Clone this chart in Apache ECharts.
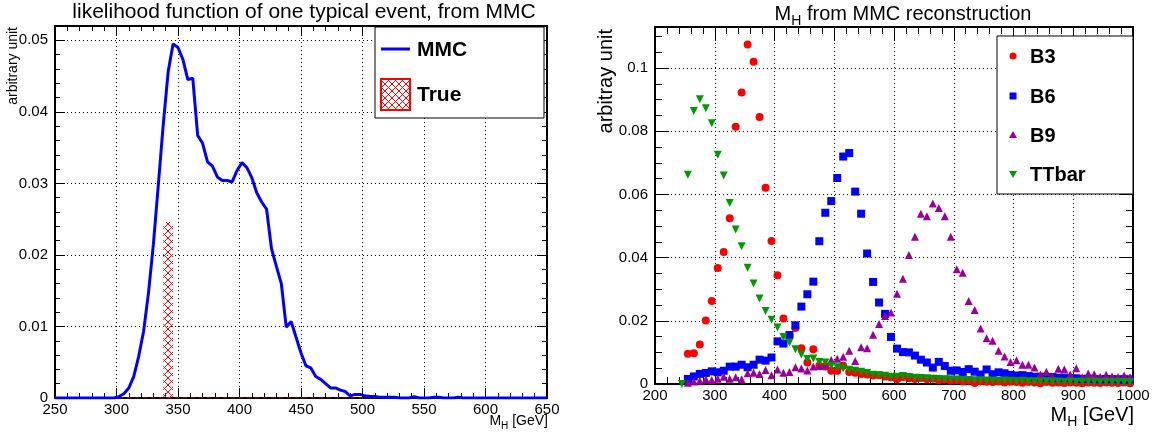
<!DOCTYPE html>
<html>
<head>
<meta charset="utf-8">
<script src="https://cdn.jsdelivr.net/npm/echarts@6/dist/echarts.min.js"></script>
<style>
html,body{margin:0;padding:0;background:#fff;}
#c{width:1159px;height:434px;}
</style>
</head>
<body>
<div id="c"></div>
<script>
// ---------- Left panel: MMC likelihood of one event ----------
const mmcMass = [
250,254,258,262,266,270,274,278,282,286,
290,294,298,302,306,310,314,318,322,326,
330,334,338,342,346,350,354,358,362,366,
370,374,378,382,386,390,394,398,402,406,
410,414,418,422,426,430,434,438,442,446,
450,454,458,462,466,470,474,478,482,486,
490,494,498,502,506,510,514,518,522,526,
530,534,538,542,546,550,554,558,562,566,
570,574,578,582,586,590,594,598,602,606,
610,614,618,622,626,630,634,638,642,646,
650];
const mmcValue = [
0,0,0,0,0,0,0,0,0,0,
0,0,0,0.0002,0.0006,0.0014,0.003,0.0058,0.0093,0.0147,
0.0215,0.0298,0.0382,0.0456,0.0495,0.049,0.0473,0.0445,0.0447,0.0367,
0.0356,0.033,0.0324,0.0309,0.0304,0.0304,0.0302,0.0318,0.0329,0.0322,
0.0308,0.0287,0.0274,0.0264,0.0209,0.0184,0.016,0.0099,0.0107,0.0085,
0.0063,0.0045,0.0042,0.003,0.0026,0.002,0.0014,0.0014,0.0011,0.0009,
0.0003,0.0005,0.0005,0.0003,0.0002,0.0002,0.0001,0.0001,0.0001,0.0001,
0,0,0,0.0002,0,0,0,0.0001,0.0001,0,
0,0,0.0001,0,0,0,0,0,0,0,
0,0,0,0,0,0,0,0,0,0,
0];
// True mass histogram (hatched bin): low edge, high edge, height
const trueLow = [338];
const trueHigh = [346];
const trueValue = [0.0246];

// ---------- Right panel: MH from MMC reconstruction ----------
const massBins = [
245,255,265,275,285,295,305,315,325,335,
345,355,365,375,385,395,405,415,425,435,
445,455,465,475,485,495,505,515,525,535,
545,555,565,575,585,595,605,615,625,635,
645,655,665,675,685,695,705,715,725,735,
745,755,765,775,785,795,805,815,825,835,
845,855,865,875,885,895,905,915,925,935,
945,955,965,975,985,995];
const b3 = [
null,0.0096,0.0097,0.0125,0.0201,0.0263,0.0367,0.0418,0.0525,0.0814,
0.0923,0.1075,0.102,0.0845,0.0621,0.0453,0.0344,0.0207,0.0155,0.0177,
0.0113,0.0068,0.011,0.0058,0.0055,0.0042,0.0042,0.0058,0.0038,0.0036,
0.0032,0.003,0.0027,0.0028,0.0024,0.0021,0.0015,0.0022,0.0018,0.0016,
0.0019,0.0015,0.0017,0.0012,0.0014,0.001,0.0012,0.0008,0.001,0.0003,
0.0009,0.0007,0.0006,0.0008,0.0005,0.0007,0.0006,0.0004,0.0006,0.0005,
0.0002,0.0006,0.0004,0.0005,0.0003,0.0005,0.0004,0.0002,0.0005,0.0004,
0.0003,0.0005,0.0004,0.0003,0.0005,0.0002];
const b6 = [
null,0.0016,0.0024,0.0032,0.0035,0.004,0.0037,0.0042,0.0055,0.0055,
0.0061,0.0053,0.0061,0.0077,0.0074,0.0084,0.0135,0.0128,0.0155,0.0186,
0.0245,0.0284,0.0324,0.0452,0.0542,0.0579,0.0652,0.072,0.0731,0.0609,
0.0539,0.0413,0.0323,0.0258,0.0222,0.0149,0.0112,0.0101,0.01,0.009,
0.0077,0.0068,0.0052,0.007,0.0057,0.0042,0.0043,0.0038,0.0047,0.0039,
0.003,0.0046,0.0031,0.0037,0.0034,0.0029,0.0027,0.0028,0.0025,0.0023,
0.0023,0.0021,0.0022,0.002,0.002,0.0019,0.0018,0.0016,0.0017,0.0016,
0.0015,0.0016,0.0015,0.0015,0.0014,0.0015];
const b9 = [
null,0.0004,0.0008,0.001,0.0015,0.0013,0.0017,0.0023,0.0017,0.0021,
0.0015,0.0034,0.0036,0.0032,0.0044,0.0028,0.0046,0.0036,0.0038,0.0053,
0.0049,0.0043,0.0055,0.0057,0.0059,0.0076,0.008,0.0086,0.0105,0.0073,
0.0116,0.0113,0.0156,0.019,0.0215,0.0226,0.0286,0.0333,0.0408,0.0466,
0.0539,0.0531,0.0571,0.0557,0.0531,0.0466,0.0363,0.0352,0.0263,0.0234,
0.0176,0.0145,0.0137,0.0105,0.0087,0.007,0.0075,0.0061,0.0061,0.0052,
0.003,0.0039,0.0023,0.0048,0.0047,0.003,0.005,0.0021,0.0033,0.0031,
0.0023,0.0029,0.0024,0.0022,0.0027,0.0021];
const ttbar = [
0,0.0662,0.0864,0.0901,0.0873,0.0825,0.0726,0.066,0.0573,0.0489,
0.0436,0.0368,0.0318,0.0271,0.0231,0.0203,0.0179,0.0149,0.0131,0.011,
0.0093,0.0079,0.0081,0.007,0.0068,0.0058,0.0053,0.0049,0.0045,0.0042,
0.0039,0.0035,0.0029,0.0028,0.0026,0.0023,0.0023,0.0025,0.0022,0.002,
0.0019,0.0018,0.0017,0.0016,0.0015,0.0015,0.0014,0.0013,0.0013,0.0012,
0.0012,0.0011,0.0011,0.001,0.0011,0.001,0.0009,0.001,0.0009,0.0009,
0.0008,0.0009,0.0008,0.0008,0.0007,0.0008,0.0007,0.0007,0.0008,0.0007,
0.0006,0.0007,0.0006,0.0007,0.0006,0.0006];

const FONT = "'Liberation Sans', Arial, Helvetica, sans-serif";
const C_B3 = '#ff0000', C_B6 = '#0000ff', C_B9 = '#990099', C_TT = '#009900';

// cross-hatch pattern
function hatch(){
  const s = 7, cv = document.createElement('canvas');
  cv.width = s; cv.height = s;
  const g = cv.getContext('2d');
  g.strokeStyle = '#ff0000'; g.lineWidth = 1;
  g.beginPath(); g.moveTo(0,0); g.lineTo(s,s); g.moveTo(s,0); g.lineTo(0,s); g.stroke();
  return {image: cv, repeat: 'repeat'};
}
const hatchFill = hatch();

const pair = (xs, ys) => xs.map((x,i)=>[x, ys[i]]).filter(p => p[1] !== null);

function fmt(v, step){
  const k = v/step;
  if (Math.abs(k - Math.round(k)) > 1e-6) return '';
  return String(parseFloat(v.toFixed(4)));
}

const lbl = {fontFamily: FONT, fontSize: 15, color: '#000'};
function mainX(grid, min, max, interval, split, tickLen){
  return {type:'value', gridIndex:grid, min, max, interval, position:'bottom',
    axisLine:{show:true, onZero:false, lineStyle:{color:'#000', width:2}},
    axisTick:{show:true, inside:true, length:tickLen, lineStyle:{color:'#000', width:1}},
    minorTick:{show:true, splitNumber:split, length:tickLen/2, lineStyle:{color:'#000', width:1}},
    axisLabel:Object.assign({margin:4, formatter:v=>fmt(v, interval)}, lbl),
    splitLine:{show:true, lineStyle:{color:'#000', type:[1,3], width:1}}};
}
function mirrorX(grid, min, max, interval, split, tickLen){
  return {type:'value', gridIndex:grid, min, max, interval, position:'top',
    axisLine:{show:true, onZero:false, lineStyle:{color:'#000', width:2}},
    axisTick:{show:true, inside:true, length:tickLen, lineStyle:{color:'#000', width:1}},
    minorTick:{show:true, splitNumber:split, length:tickLen/2, lineStyle:{color:'#000', width:1}},
    axisLabel:{show:false}, splitLine:{show:false}};
}
function mainY(grid, min, max, interval, split, tickLen){
  return {type:'value', gridIndex:grid, min, max, interval, position:'left',
    axisLine:{show:true, onZero:false, lineStyle:{color:'#000', width:2}},
    axisTick:{show:true, inside:true, length:tickLen, lineStyle:{color:'#000', width:1}},
    minorTick:{show:true, splitNumber:split, length:tickLen/2, lineStyle:{color:'#000', width:1}},
    axisLabel:Object.assign({margin:7, showMaxLabel:false, formatter:v=>fmt(v, interval)}, lbl),
    splitLine:{show:true, lineStyle:{color:'#000', type:[1,3], width:1}}};
}
function mirrorY(grid, min, max, interval, split, tickLen){
  return {type:'value', gridIndex:grid, min, max, interval, position:'right',
    axisLine:{show:true, onZero:false, lineStyle:{color:'#000', width:2}},
    axisTick:{show:true, inside:true, length:tickLen, lineStyle:{color:'#000', width:1}},
    minorTick:{show:true, splitNumber:split, length:tickLen/2, lineStyle:{color:'#000', width:1}},
    axisLabel:{show:false}, splitLine:{show:false}};
}

const subRich = (fs) => ({
  a:{fontFamily:FONT, fontSize:fs, lineHeight:fs, verticalAlign:'top', color:'#000'},
  s:{fontFamily:FONT, fontSize:Math.round(fs*0.7), lineHeight:Math.round(fs*0.7), padding:[Math.round(fs*0.5),0,0,0], verticalAlign:'top', color:'#000'}
});

const chart = echarts.init(document.getElementById('c'), null, {renderer:'canvas'});
chart.setOption({
  animation:false,
  backgroundColor:'#fff',
  grid:[
    {left:55, top:26, width:492, height:372},
    {left:655, top:27, width:478, height:357}
  ],
  xAxis:[
    mainX(0, 250, 650, 50, 5, 10),
    mirrorX(0, 250, 650, 50, 5, 10),
    mainX(1, 200, 1000, 100, 5, 14),
    mirrorX(1, 200, 1000, 100, 5, 14)
  ],
  yAxis:[
    mainY(0, 0, 0.052, 0.01, 5, 10),
    mirrorY(0, 0, 0.052, 0.01, 5, 10),
    mainY(1, 0, 0.113, 0.02, 4, 14),
    mirrorY(1, 0, 0.113, 0.02, 4, 14)
  ],
  series:[
    {type:'line', xAxisIndex:0, yAxisIndex:0, data:[[250,0],[650,0]], symbol:'none', silent:true,
     lineStyle:{color:'#ff0000', width:1, type:[4,4]}, z:2},
    {type:'custom', xAxisIndex:0, yAxisIndex:0, z:3,
     data: trueLow.map((lo,i)=>[lo, trueHigh[i], trueValue[i]]),
     renderItem:(params, api)=>{
       const p0 = api.coord([api.value(0), api.value(2)]);
       const p1 = api.coord([api.value(1), 0]);
       return {type:'rect', shape:{x:p0[0], y:p0[1], width:p1[0]-p0[0], height:p1[1]-p0[1]},
               style:{fill:hatchFill, stroke:null}};
     }},
    {type:'line', name:'MMC', xAxisIndex:0, yAxisIndex:0, data:pair(mmcMass, mmcValue), symbol:'none',
     lineStyle:{color:'#0000ff', width:3}, z:4},
    {type:'scatter', name:'B3', xAxisIndex:2, yAxisIndex:2, data:pair(massBins, b3), symbol:'circle', symbolSize:8,
     itemStyle:{color:C_B3, opacity:1}, z:3},
    {type:'scatter', name:'B6', xAxisIndex:2, yAxisIndex:2, data:pair(massBins, b6), symbol:'rect', symbolSize:8,
     itemStyle:{color:C_B6, opacity:1}, z:4},
    {type:'scatter', name:'B9', xAxisIndex:2, yAxisIndex:2, data:pair(massBins, b9), symbol:'triangle', symbolSize:8,
     itemStyle:{color:C_B9, opacity:1}, z:5},
    {type:'scatter', name:'TTbar', xAxisIndex:2, yAxisIndex:2, data:pair(massBins, ttbar), symbol:'triangle', symbolRotate:180, symbolSize:8,
     itemStyle:{color:C_TT, opacity:1}, z:6}
  ],
  graphic:[
    // titles
    {type:'text', x:304, y:12, z:10, style:{text:'likelihood function of one typical event, from MMC', fontFamily:FONT, fontSize:21, fill:'#000', align:'center', verticalAlign:'middle'}},
    {type:'text', x:903, y:4, z:10, style:{text:'{a|M}{s|H}{a| from MMC reconstruction}', rich:subRich(20), align:'center', verticalAlign:'top'}},
    // axis names
    {type:'text', x:13, y:27, rotation:Math.PI/2, z:10, style:{text:'arbitrary unit', fontFamily:FONT, fontSize:14, fill:'#000', align:'right', verticalAlign:'middle'}},
    {type:'text', x:606, y:29, rotation:Math.PI/2, z:10, style:{text:'arbitray unit', fontFamily:FONT, fontSize:20, fill:'#000', align:'right', verticalAlign:'middle'}},
    {type:'text', x:548, y:414, z:10, style:{text:'{a|M}{s|H}{a| [GeV]}', rich:subRich(14), align:'right', verticalAlign:'top'}},
    {type:'text', x:1134, y:405, z:10, style:{text:'{a|M}{s|H}{a| [GeV]}', rich:subRich(20), align:'right', verticalAlign:'top'}},
    // left legend
    {type:'rect', z:20, shape:{x:375, y:27, width:169, height:91}, style:{fill:'#fff', stroke:'#000', lineWidth:1}},
    {type:'line', z:21, shape:{x1:381, y1:49, x2:410, y2:49}, style:{stroke:'#0000ff', lineWidth:3}},
    {type:'text', z:21, x:417, y:50, style:{text:'MMC', fontFamily:FONT, fontWeight:'bold', fontSize:21, fill:'#000', verticalAlign:'middle'}},
    {type:'rect', z:21, shape:{x:381, y:79, width:29, height:31}, style:{fill:hatchFill, stroke:'#ff0000', lineWidth:2}},
    {type:'text', z:21, x:417, y:95, style:{text:'True', fontFamily:FONT, fontWeight:'bold', fontSize:21, fill:'#000', verticalAlign:'middle'}},
    // right legend
    {type:'rect', z:20, shape:{x:997, y:36, width:136, height:158}, style:{fill:'#fff', stroke:'#000', lineWidth:1}},
    {type:'circle', z:21, shape:{cx:1013, cy:56, r:3.5}, style:{fill:C_B3}},
    {type:'text', z:21, x:1030, y:57, style:{text:'B3', fontFamily:FONT, fontWeight:'bold', fontSize:20, fill:'#000', verticalAlign:'middle'}},
    {type:'rect', z:21, shape:{x:1009.5, y:92.5, width:7, height:7}, style:{fill:C_B6}},
    {type:'text', z:21, x:1030, y:97, style:{text:'B6', fontFamily:FONT, fontWeight:'bold', fontSize:20, fill:'#000', verticalAlign:'middle'}},
    {type:'polygon', z:21, shape:{points:[[1013,131],[1017,138],[1009,138]]}, style:{fill:C_B9}},
    {type:'text', z:21, x:1030, y:136, style:{text:'B9', fontFamily:FONT, fontWeight:'bold', fontSize:20, fill:'#000', verticalAlign:'middle'}},
    {type:'polygon', z:21, shape:{points:[[1009,171],[1017,171],[1013,178]]}, style:{fill:C_TT}},
    {type:'text', z:21, x:1030, y:175, style:{text:'TTbar', fontFamily:FONT, fontWeight:'bold', fontSize:20, fill:'#000', verticalAlign:'middle'}}
  ]
});
</script>
</body>
</html>
